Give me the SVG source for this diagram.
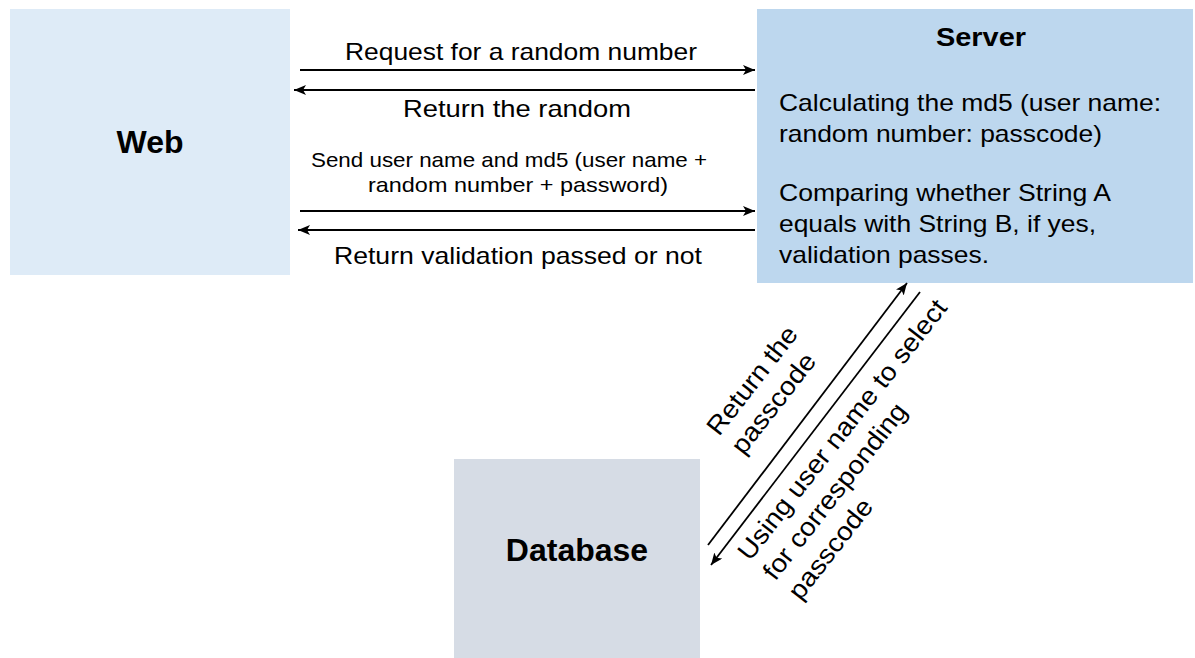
<svg xmlns="http://www.w3.org/2000/svg" width="1195" height="658" viewBox="0 0 1195 658">
  <style>
    text { font-family: "Liberation Sans", Arial, sans-serif; fill: #000; }
    .title { font-size: 32px; font-weight: bold; text-anchor: middle; }
    .lbl { font-size: 24px; }
    .diag { font-size: 26px; }
    .mid { text-anchor: middle; }
    .small { font-size: 21px; }
    .edge { stroke: #000; stroke-width: 1.8; fill: none; marker-end: url(#arrow); }
  </style>
  <defs>
    <marker id="arrow" markerUnits="userSpaceOnUse" markerWidth="14" markerHeight="12" refX="12" refY="5" orient="auto">
      <path d="M0,0 L12,5 L0,10 L3,5 Z" fill="#000"/>
    </marker>
  </defs>
  <rect width="1195" height="658" fill="#ffffff"/>

  <g id="web">
    <rect x="10" y="9" width="280" height="266" fill="#DEEBF7"/>
    <text class="title" x="150" y="153">Web</text>
  </g>

  <g id="server">
    <rect x="757" y="9" width="436" height="274" fill="#BDD7EE"/>
    <text class="title" x="981" y="46" style="font-size:25px" textLength="90" lengthAdjust="spacingAndGlyphs">Server</text>
    <text class="lbl" x="779" y="111" textLength="382" lengthAdjust="spacingAndGlyphs">Calculating the md5 (user name:</text>
    <text class="lbl" x="779" y="142" textLength="323" lengthAdjust="spacingAndGlyphs">random number: passcode)</text>
    <text class="lbl" x="779" y="201" textLength="332" lengthAdjust="spacingAndGlyphs">Comparing whether String A</text>
    <text class="lbl" x="779" y="232" textLength="317" lengthAdjust="spacingAndGlyphs">equals with String B, if yes,</text>
    <text class="lbl" x="779" y="263" textLength="210" lengthAdjust="spacingAndGlyphs">validation passes.</text>
  </g>

  <g id="database">
    <rect x="454" y="459" width="246" height="199" fill="#D6DCE5"/>
    <text class="title" x="577" y="561">Database</text>
  </g>

  <g id="connectors">
    <line class="edge" x1="300" y1="70" x2="755" y2="70"/>
    <line class="edge" x1="755" y1="90" x2="294" y2="90"/>
    <line class="edge" x1="300" y1="211" x2="755" y2="211"/>
    <line class="edge" x1="755" y1="230" x2="298" y2="230"/>
    <line class="edge" x1="708" y1="545" x2="907" y2="283"/>
    <line class="edge" x1="920" y1="292" x2="711" y2="565"/>
  </g>

  <g id="edge-labels">
    <text class="lbl mid" x="521" y="60" textLength="352" lengthAdjust="spacingAndGlyphs">Request for a random number</text>
    <text class="lbl mid" x="517" y="117" textLength="228" lengthAdjust="spacingAndGlyphs">Return the random</text>
    <text class="small mid" x="509" y="167" textLength="396" lengthAdjust="spacingAndGlyphs">Send user name and md5 (user name +</text>
    <text class="small mid" x="518" y="192" textLength="300" lengthAdjust="spacingAndGlyphs">random number + password)</text>
    <text class="lbl mid" x="518" y="264" textLength="368" lengthAdjust="spacingAndGlyphs">Return validation passed or not</text>
    <g transform="translate(719,437) rotate(-52)">
      <text class="diag" x="0" y="0" textLength="130" lengthAdjust="spacingAndGlyphs">Return the</text>
      <text class="diag" x="0" y="31" textLength="120" lengthAdjust="spacingAndGlyphs">passcode</text>
    </g>
    <g transform="translate(750,562) rotate(-52)">
      <text class="diag" x="0" y="0" textLength="322" lengthAdjust="spacingAndGlyphs">Using user name to select</text>
      <text class="diag" x="0" y="32" textLength="216" lengthAdjust="spacingAndGlyphs">for corresponding</text>
      <text class="diag" x="0" y="64" textLength="120" lengthAdjust="spacingAndGlyphs">passcode</text>
    </g>
  </g>
</svg>
